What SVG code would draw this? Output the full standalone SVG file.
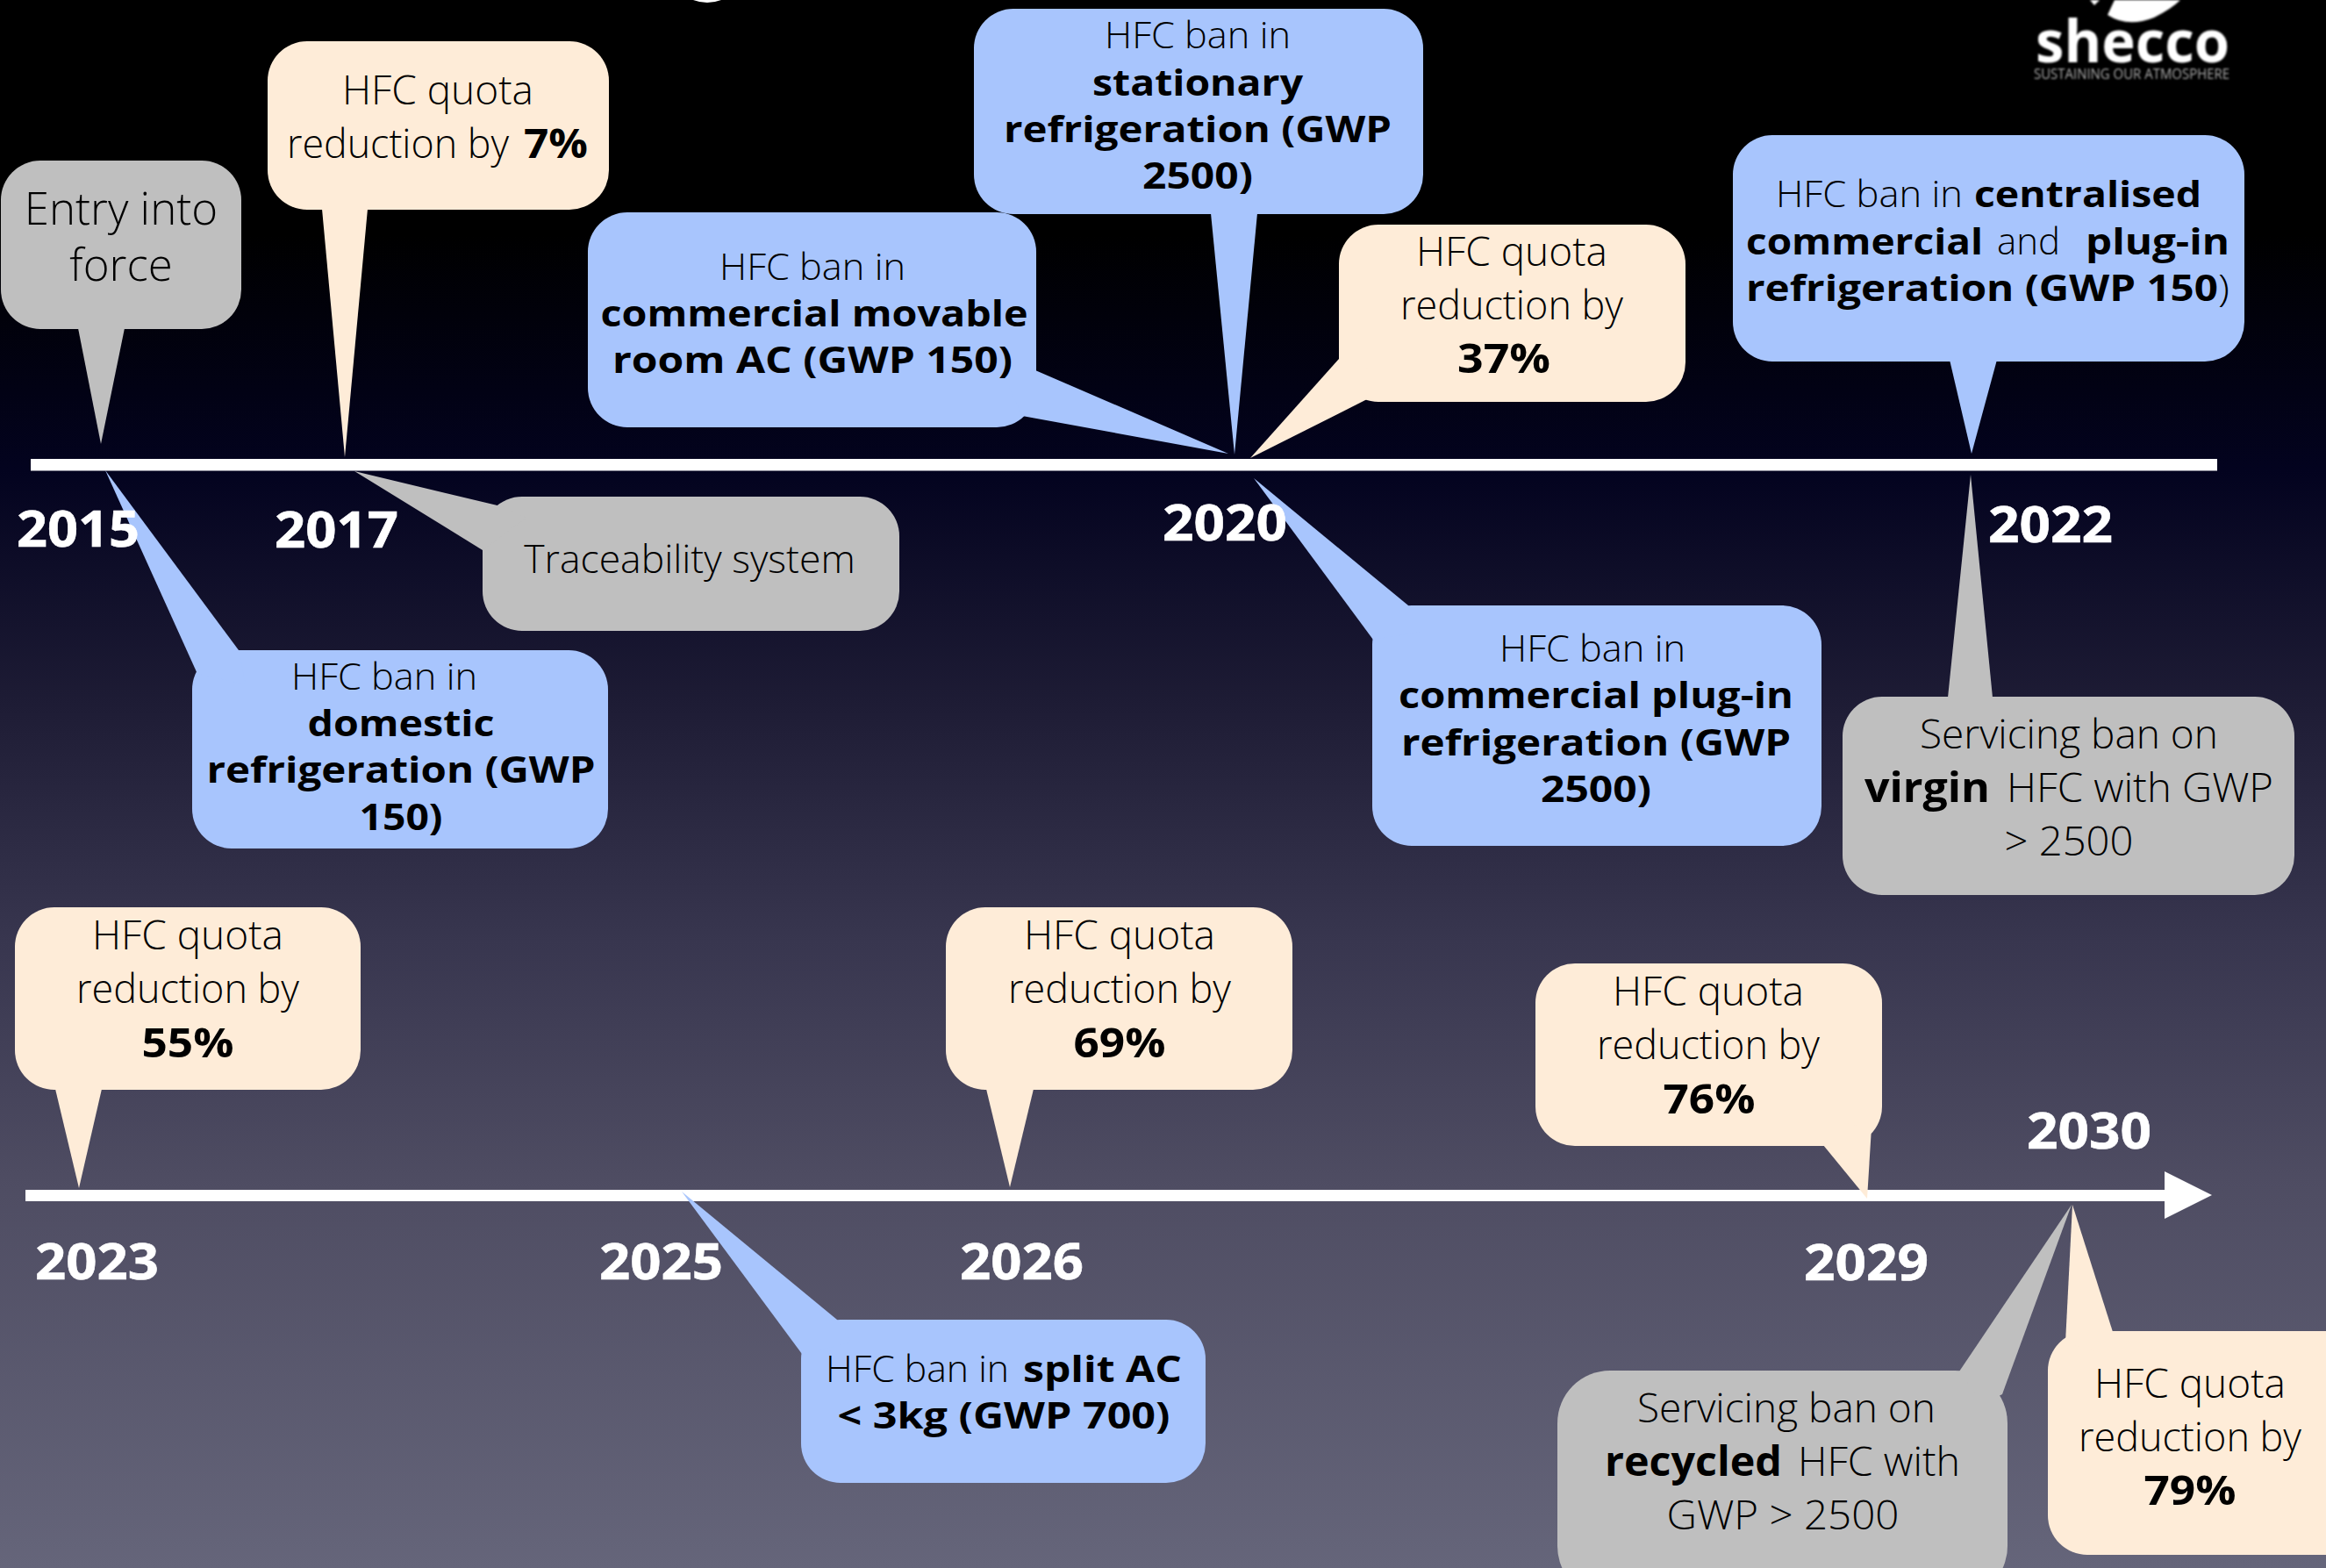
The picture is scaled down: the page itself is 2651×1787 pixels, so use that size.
<svg xmlns="http://www.w3.org/2000/svg" width="2651" height="1787" viewBox="0 0 2651 1787">
<style>
text{font-family:"Open Sans","Noto Sans","Liberation Sans",sans-serif;fill:#000}
.q{font-size:46px;font-weight:300;text-anchor:middle}
.r{font-size:42px;font-weight:300;text-anchor:middle}
.st{text-anchor:start}
.s{font-weight:700}
.y{font-size:58px;font-weight:700;fill:#fff;stroke:#fff;stroke-width:.6}
.cream{fill:#feecd8}.blue{fill:#a8c5fd}.grey{fill:#bfbfbf}
</style>
<defs>
<linearGradient id="bg" x1="0" y1="0" x2="0" y2="1">
<stop offset="0" stop-color="#000"/><stop offset=".15" stop-color="#000"/><stop offset=".3" stop-color="#03031f"/><stop offset=".45" stop-color="#1e1c35"/><stop offset=".6" stop-color="#38364f"/><stop offset=".75" stop-color="#4e4c62"/><stop offset="1" stop-color="#65657a"/>
</linearGradient>
<filter id="soft"><feGaussianBlur stdDeviation="0.8"/></filter>
</defs>
<rect id="background" width="2651" height="1787" fill="url(#bg)"/>
<path id="title-fragment" d="M790 0Q806 6 822 0Z" fill="#fff"/>
<g id="logo" filter="url(#soft)">
<path d="M2410 0L2402 17Q2425 32 2455 20Q2475 10 2485 0Z" fill="#fff"/>
<path d="M2382 0L2393 0L2387 6Z" fill="#fff"/>
<text x="2320" y="71" font-size="66" font-weight="700" textLength="221" lengthAdjust="spacingAndGlyphs" style="fill:#fff">shecco</text>
<text x="2318" y="90" font-size="16" textLength="223" lengthAdjust="spacingAndGlyphs" style="fill:#aaa">SUSTAINING OUR ATMOSPHERE</text>
</g>
<g id="connectors" fill="#fff">
<rect id="axis-top" x="35" y="523" width="2492" height="13.500"/>
<rect id="axis-bottom" x="29" y="1356" width="2440" height="13"/>
<polygon id="axis-arrowhead" points="2467,1335 2521,1362 2467,1389"/>
</g>
<g id="entry" class="grey"><rect x="1" y="183" width="274" height="192" rx="45"/><polygon points="89,374 142,374 115,506"/>
<text x="138" y="255.500" class="q" style="font-size:51px">Entry into</text><text x="138" y="319.500" class="q" style="font-size:51px">force</text></g>
<g id="quota7" class="cream"><rect x="305" y="47" width="389" height="192" rx="45"/><polygon points="367,238 419,238 393,521"/>
<text x="499" y="119" class="q">HFC quota</text><text y="180" class="q st"><tspan x="327" textLength="253" lengthAdjust="spacingAndGlyphs">reduction by</tspan><tspan x="597" class="s" textLength="73" lengthAdjust="spacingAndGlyphs">7%</tspan></text></g>
<g id="stationary" class="blue"><rect x="1110" y="10" width="512" height="234" rx="45"/><polygon points="1380,243 1433,243 1407,518"/>
<text x="1365" y="55" class="r" textLength="212" lengthAdjust="spacingAndGlyphs">HFC ban in</text><text x="1365" y="109" class="r s" textLength="240" lengthAdjust="spacingAndGlyphs">stationary</text><text x="1365" y="162" class="r s" textLength="442" lengthAdjust="spacingAndGlyphs">refrigeration (GWP</text><text x="1365" y="215" class="r s" textLength="126" lengthAdjust="spacingAndGlyphs">2500)</text></g>
<g id="movable" class="blue"><rect x="670" y="242" width="511" height="245" rx="45"/><polygon points="1180,422 1400,517 1165,474 1150,440"/>
<text x="926" y="319" class="r" textLength="212" lengthAdjust="spacingAndGlyphs">HFC ban in</text><text x="928" y="372" class="r s" textLength="487" lengthAdjust="spacingAndGlyphs">commercial movable</text><text x="926" y="425" class="r s" textLength="456" lengthAdjust="spacingAndGlyphs">room AC (GWP 150)</text></g>
<g id="quota37" class="cream"><rect x="1526" y="256" width="395" height="202" rx="45"/><polygon points="1526,409 1425,522 1560,454 1560,420"/>
<text x="1723" y="303" class="q">HFC quota</text><text x="1723" y="364" class="q" textLength="254" lengthAdjust="spacingAndGlyphs">reduction by</text><text x="1714" y="425" class="q s" textLength="106" lengthAdjust="spacingAndGlyphs">37%</text></g>
<g id="centralised" class="blue"><rect x="1975" y="154" width="583" height="258" rx="45"/><polygon points="2222,410 2276,410 2247,517"/>
<text y="236" class="r st"><tspan x="2024" textLength="213" lengthAdjust="spacingAndGlyphs">HFC ban in</tspan><tspan x="2250" class="s" textLength="259" lengthAdjust="spacingAndGlyphs">centralised</tspan></text>
<text y="290" class="r st"><tspan x="1990" class="s" textLength="270" lengthAdjust="spacingAndGlyphs">commercial</tspan><tspan x="2276" textLength="72" lengthAdjust="spacingAndGlyphs">and</tspan><tspan x="2377" class="s" textLength="164" lengthAdjust="spacingAndGlyphs">plug-in</tspan></text>
<text y="343" class="r st"><tspan x="1990" class="s" textLength="538" lengthAdjust="spacingAndGlyphs">refrigeration (GWP 150</tspan><tspan x="2528" textLength="13" lengthAdjust="spacingAndGlyphs">)</tspan></text></g>
<g id="traceability" class="grey"><rect x="550" y="566" width="475" height="153" rx="45"/><polygon points="404,537 571,577 600,590 550,627"/>
<text x="786" y="653" class="q" style="font-size:44.500px">Traceability system</text></g>
<g id="domestic" class="blue"><rect x="219" y="741" width="474" height="226" rx="45"/><polygon points="120,536 272,741 280,780 225,768"/>
<text x="438" y="786" class="r" textLength="212" lengthAdjust="spacingAndGlyphs">HFC ban in</text><text x="457" y="839" class="r s" textLength="213" lengthAdjust="spacingAndGlyphs">domestic</text><text x="457" y="892" class="r s" textLength="443" lengthAdjust="spacingAndGlyphs">refrigeration (GWP</text><text x="457" y="946" class="r s" textLength="95" lengthAdjust="spacingAndGlyphs">150)</text></g>
<g id="plugin" class="blue"><rect x="1564" y="690" width="512" height="274" rx="45"/><polygon points="1429,545 1605,690 1620,720 1565,729"/>
<text x="1815" y="754" class="r" textLength="212" lengthAdjust="spacingAndGlyphs">HFC ban in</text><text x="1819" y="807" class="r s" textLength="450" lengthAdjust="spacingAndGlyphs">commercial plug-in</text><text x="1819" y="861" class="r s" textLength="444" lengthAdjust="spacingAndGlyphs">refrigeration (GWP</text><text x="1819" y="914" class="r s" textLength="126" lengthAdjust="spacingAndGlyphs">2500)</text></g>
<g id="virgin" class="grey"><rect x="2100" y="794" width="515" height="226" rx="45"/><polygon points="2220,795 2246,541 2271,795"/>
<text x="2358" y="853" class="q">Servicing ban on</text><text y="914" class="q st"><tspan x="2125" class="s" textLength="143" lengthAdjust="spacingAndGlyphs">virgin</tspan><tspan x="2287" textLength="304" lengthAdjust="spacingAndGlyphs">HFC with GWP</tspan></text><text x="2358" y="975" class="q" textLength="147" lengthAdjust="spacingAndGlyphs">&gt; 2500</text></g>
<g id="quota55" class="cream"><rect x="17" y="1034" width="394" height="208" rx="45"/><polygon points="63,1241 116,1241 90,1354"/>
<text x="214" y="1082" class="q">HFC quota</text><text x="214" y="1143" class="q" textLength="254" lengthAdjust="spacingAndGlyphs">reduction by</text><text x="214" y="1205" class="q s" textLength="105" lengthAdjust="spacingAndGlyphs">55%</text></g>
<g id="quota69" class="cream"><rect x="1078" y="1034" width="395" height="208" rx="45"/><polygon points="1124,1241 1178,1241 1151,1353"/>
<text x="1276" y="1082" class="q">HFC quota</text><text x="1276" y="1143" class="q" textLength="254" lengthAdjust="spacingAndGlyphs">reduction by</text><text x="1276" y="1205" class="q s" textLength="105" lengthAdjust="spacingAndGlyphs">69%</text></g>
<g id="quota76" class="cream"><rect x="1750" y="1098" width="395" height="208" rx="45"/><polygon points="2078,1305 2128,1366 2133,1285 2100,1280"/>
<text x="1947" y="1146" class="q">HFC quota</text><text x="1947" y="1207" class="q" textLength="254" lengthAdjust="spacingAndGlyphs">reduction by</text><text x="1948" y="1269" class="q s" textLength="105" lengthAdjust="spacingAndGlyphs">76%</text></g>
<g id="splitac" class="blue"><rect x="913" y="1504" width="461" height="186" rx="45"/><polygon points="777,1358 954,1504 970,1530 914,1543"/>
<text y="1575" class="r st"><tspan x="941" textLength="209" lengthAdjust="spacingAndGlyphs">HFC ban in</tspan><tspan x="1166" class="s" textLength="181" lengthAdjust="spacingAndGlyphs">split AC</tspan></text><text x="1144" y="1628" class="r s" textLength="379" lengthAdjust="spacingAndGlyphs">&lt; 3kg (GWP 700)</text></g>
<g id="recycled" class="grey"><rect x="1775" y="1562" width="513" height="260" rx="60"/><polygon points="2233,1563 2361,1373 2282,1589 2260,1600"/>
<text x="2036" y="1621" class="q">Servicing ban on</text><text y="1682" class="q st"><tspan x="1829" class="s" textLength="202" lengthAdjust="spacingAndGlyphs">recycled</tspan><tspan x="2049" textLength="185" lengthAdjust="spacingAndGlyphs">HFC with</tspan></text><text x="2032" y="1743" class="q" textLength="265" lengthAdjust="spacingAndGlyphs">GWP &gt; 2500</text></g>
<g id="quota79" class="cream"><rect x="2334" y="1517" width="360" height="255" rx="45"/><polygon points="2354,1530 2362,1373 2408,1518 2390,1540"/>
<text x="2496" y="1593" class="q">HFC quota</text><text x="2496" y="1654" class="q" textLength="254" lengthAdjust="spacingAndGlyphs">reduction by</text><text x="2496" y="1715" class="q s" textLength="105" lengthAdjust="spacingAndGlyphs">79%</text></g>
<g id="years">
<text class="y" x="19" y="623" textLength="140" lengthAdjust="spacingAndGlyphs">2015</text>
<text class="y" x="313" y="624" textLength="141" lengthAdjust="spacingAndGlyphs">2017</text>
<text class="y" x="1325" y="616" textLength="142" lengthAdjust="spacingAndGlyphs">2020</text>
<text class="y" x="2266" y="618" textLength="142" lengthAdjust="spacingAndGlyphs">2022</text>
<text class="y" x="40" y="1458" textLength="141" lengthAdjust="spacingAndGlyphs">2023</text>
<text class="y" x="683" y="1458" textLength="141" lengthAdjust="spacingAndGlyphs">2025</text>
<text class="y" x="1094" y="1458" textLength="141" lengthAdjust="spacingAndGlyphs">2026</text>
<text class="y" x="2056" y="1459" textLength="142" lengthAdjust="spacingAndGlyphs">2029</text>
<text class="y" x="2310" y="1309" textLength="142" lengthAdjust="spacingAndGlyphs">2030</text>
</g>
</svg>
